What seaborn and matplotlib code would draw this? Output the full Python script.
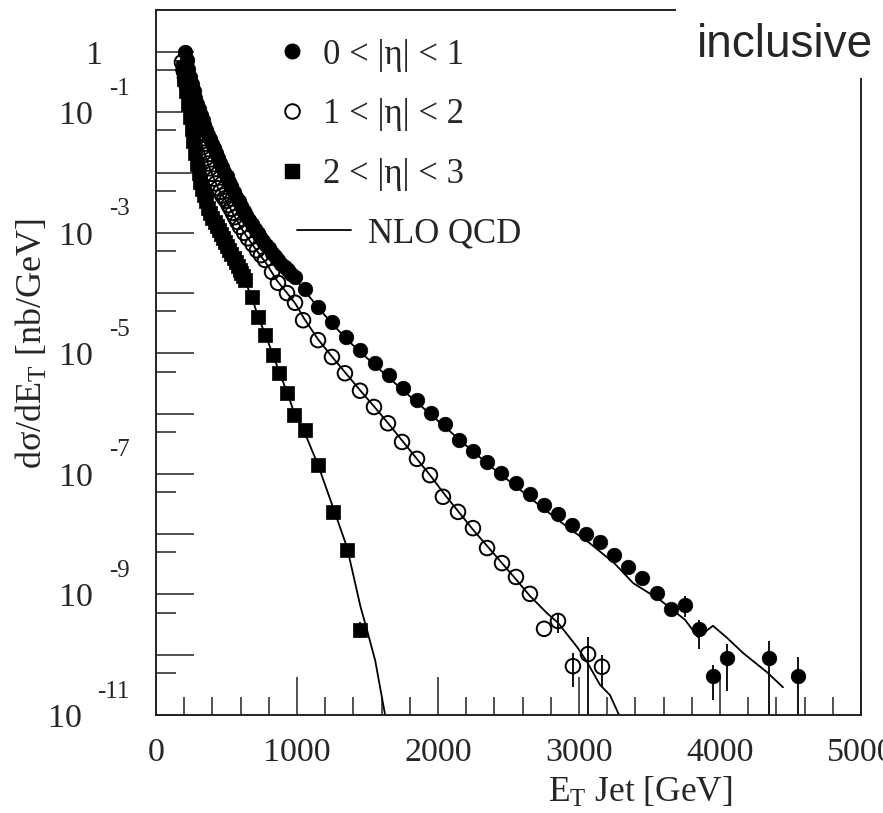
import numpy as np
import pandas as pd
import matplotlib
matplotlib.use("Agg")
import matplotlib.pyplot as plt
import seaborn as sns
from matplotlib.lines import Line2D
from matplotlib.patches import Rectangle
from matplotlib.ticker import MultipleLocator, LogLocator, NullFormatter

# --- data (E_T in GeV, cross section as log10 nb/GeV) ---
et_central = [206, 218, 230, 242, 255, 267, 280, 292, 305, 318,
              330, 342, 355, 367, 380, 395, 410, 425, 440, 455,
              470, 485, 500, 518, 535, 552, 570, 588, 605, 622,
              640, 660, 680, 700, 720, 740, 760, 780, 800, 822,
              845, 868, 890, 912, 935, 960, 986, 1057, 1150, 1250,
              1350, 1450, 1550, 1650, 1750, 1850, 1950, 2050, 2150, 2250,
              2350, 2450, 2550, 2650, 2750, 2850, 2950, 3050, 3150, 3250,
              3350, 3450, 3550, 3650, 3750, 3850, 3950, 4050, 4350, 4550]
logxs_central = [0.0, -0.14, -0.28, -0.41, -0.53, -0.65, -0.76, -0.86, -0.95, -1.04,
                 -1.13, -1.21, -1.29, -1.37, -1.44, -1.52, -1.60, -1.68, -1.76, -1.84,
                 -1.91, -1.99, -2.06, -2.15, -2.23, -2.32, -2.40, -2.48, -2.55, -2.63,
                 -2.70, -2.78, -2.86, -2.93, -3.00, -3.07, -3.13, -3.20, -3.26, -3.33,
                 -3.39, -3.45, -3.51, -3.57, -3.62, -3.68, -3.73, -3.93, -4.23, -4.48,
                 -4.73, -4.95, -5.16, -5.36, -5.57, -5.77, -5.99, -6.17, -6.44, -6.62,
                 -6.80, -6.99, -7.15, -7.33, -7.52, -7.67, -7.85, -8.00, -8.13, -8.35,
                 -8.55, -8.73, -8.98, -9.24, -9.18, -9.57, -10.35, -10.05, -10.05, -10.35]
err_et_central = [3750, 3850, 3950, 4050, 4350, 4550]
err_hi_central = [-9.03, -9.42, -10.17, -9.82, -9.77, -10.04]
err_lo_central = [-9.37, -9.91, -10.75, -10.60, -12.0, -12.0]

et_mid = [184, 195, 205, 218, 230, 242, 255, 268, 280, 292,
          305, 318, 330, 342, 355, 368, 380, 395, 410, 425,
          440, 455, 470, 485, 500, 515, 530, 545, 560, 578,
          596, 625, 652, 685, 716, 745, 773, 823, 865, 929,
          986, 1043, 1149, 1248, 1340, 1447, 1546, 1645, 1745, 1851,
          1943, 2035, 2142, 2248, 2348, 2454, 2553, 2652, 2752, 2851,
          2957, 3064, 3163]
logxs_mid = [-0.17, -0.30, -0.42, -0.56, -0.70, -0.83, -0.95, -1.07, -1.18, -1.29,
             -1.39, -1.49, -1.58, -1.67, -1.76, -1.85, -1.93, -2.02, -2.10, -2.18,
             -2.26, -2.32, -2.38, -2.43, -2.47, -2.54, -2.60, -2.67, -2.74, -2.82,
             -2.90, -3.00, -3.09, -3.19, -3.29, -3.37, -3.45, -3.65, -3.83, -4.00,
             -4.16, -4.45, -4.78, -5.06, -5.33, -5.62, -5.89, -6.16, -6.47, -6.75,
             -7.02, -7.38, -7.63, -7.90, -8.23, -8.48, -8.71, -8.99, -9.57, -9.44,
             -10.19, -9.99, -10.20]
err_et_mid = [2851, 2957, 3064, 3163]
err_hi_mid = [-9.30, -9.97, -9.71, -10.00]
err_lo_mid = [-9.64, -10.54, -12.0, -10.54]

et_fwd = [190, 202, 215, 228, 240, 252, 265, 278, 290, 302,
          315, 328, 340, 355, 370, 385, 400, 415, 430, 445,
          460, 475, 490, 505, 520, 535, 550, 565, 580, 593,
          605, 618, 631, 681, 723, 773, 830, 872, 929, 979,
          1057, 1149, 1255, 1355, 1447]
logxs_fwd = [-0.25, -0.45, -0.65, -0.87, -1.08, -1.28, -1.48, -1.67, -1.85, -2.00,
             -2.15, -2.27, -2.38, -2.48, -2.58, -2.67, -2.75, -2.82, -2.88, -2.95,
             -3.02, -3.09, -3.15, -3.22, -3.28, -3.35, -3.42, -3.49, -3.55, -3.61,
             -3.66, -3.72, -3.78, -4.07, -4.40, -4.70, -5.03, -5.33, -5.66, -6.02,
             -6.27, -6.85, -7.63, -8.26, -9.59]
err_et_fwd = [1447]
err_hi_fwd = [-9.45]
err_lo_fwd = [-9.72]

# NLO QCD curves
nlo_et_central = [200, 250, 300, 350, 400, 450, 500, 570, 640, 720,
                  800, 890, 986, 1050, 1150, 1250, 1350, 1450, 1550, 1650,
                  1750, 1850, 1950, 2050, 2150, 2250, 2350, 2450, 2550, 2650,
                  2750, 2850, 2950, 3050, 3150, 3250, 3383, 3574, 3752, 3844,
                  3950, 4050, 4163, 4333, 4447]
nlo_log_central = [0.05, -0.52, -0.98, -1.27, -1.55, -1.82, -2.06, -2.40, -2.70, -3.00,
                   -3.26, -3.51, -3.76, -3.95, -4.24, -4.51, -4.76, -4.98, -5.19, -5.40,
                   -5.61, -5.81, -6.02, -6.22, -6.43, -6.63, -6.83, -7.02, -7.20, -7.39,
                   -7.58, -7.76, -7.94, -8.10, -8.29, -8.48, -8.81, -9.09, -9.42, -9.71,
                   -9.52, -9.72, -9.97, -10.29, -10.54]
nlo_et_mid = [185, 230, 280, 330, 380, 440, 500, 560, 620, 700,
              780, 860, 930, 990, 1050, 1150, 1250, 1350, 1450, 1550,
              1650, 1750, 1850, 1950, 2050, 2150, 2250, 2350, 2450, 2550,
              2650, 2773, 2851, 2986, 3057, 3149, 3220, 3284, 3320]
nlo_log_mid = [-0.15, -0.70, -1.18, -1.58, -1.93, -2.26, -2.48, -2.74, -2.98, -3.25,
               -3.50, -3.80, -4.00, -4.18, -4.42, -4.77, -5.06, -5.34, -5.62, -5.89,
               -6.17, -6.46, -6.75, -7.04, -7.35, -7.64, -7.93, -8.20, -8.47, -8.74,
               -9.02, -9.31, -9.47, -9.87, -10.12, -10.50, -10.67, -11.0, -11.3]
nlo_et_fwd = [185, 215, 240, 265, 290, 315, 340, 370, 400, 460,
              520, 580, 631, 681, 723, 773, 830, 872, 929, 979,
              1057, 1149, 1255, 1355, 1450, 1500, 1555, 1625, 1660]
nlo_log_fwd = [-0.15, -0.65, -1.08, -1.48, -1.85, -2.15, -2.38, -2.58, -2.75, -3.02,
               -3.28, -3.55, -3.80, -4.08, -4.38, -4.68, -5.02, -5.30, -5.64, -5.98,
               -6.33, -6.85, -7.55, -8.22, -9.20, -9.62, -10.10, -11.0, -11.5]

legend_labels = ["0 < |η| < 1", "1 < |η| < 2", "2 < |η| < 3"]
ylabel_exps = [0, -1, -3, -5, -7, -9, -11]


def to_df(et, logxs):
    return pd.DataFrame({"et": et, "xs": np.power(10.0, logxs)})


sns.set_theme(style="ticks")
plt.rcParams["font.family"] = ["Liberation Serif", "DejaVu Serif"]
plt.rcParams["mathtext.fontset"] = "custom"
plt.rcParams["mathtext.rm"] = "Liberation Serif"
plt.rcParams["mathtext.it"] = "Liberation Serif:italic"
plt.rcParams["mathtext.bf"] = "Liberation Serif:bold"

W, H = 883, 813
fig = plt.figure(figsize=(W / 100, H / 100), dpi=100)
ax = fig.add_axes([156 / W, 98 / H, 705 / W, 705 / H])
ax.set_yscale("log")

# NLO lines
for e, l in [(nlo_et_central, nlo_log_central), (nlo_et_mid, nlo_log_mid),
             (nlo_et_fwd, nlo_log_fwd)]:
    sns.lineplot(data=to_df(e, l), x="et", y="xs", ax=ax, color="black",
                 linewidth=1.3, sort=False, estimator=None, zorder=2)

# error bars
for e, hi, lo in [(err_et_central, err_hi_central, err_lo_central),
                  (err_et_mid, err_hi_mid, err_lo_mid),
                  (err_et_fwd, err_hi_fwd, err_lo_fwd)]:
    ax.vlines(e, np.power(10.0, lo), np.power(10.0, hi), color="black",
              linewidth=1.3, zorder=2)

# open circles first, filled markers drawn over them
msize = 110
sns.scatterplot(data=to_df(et_mid, logxs_mid), x="et", y="xs", ax=ax,
                marker="o", s=msize, color="black", facecolor="none",
                edgecolor="black", linewidth=1.4, zorder=3)
sns.scatterplot(data=to_df(et_fwd, logxs_fwd), x="et", y="xs", ax=ax,
                marker="s", s=msize, color="black", edgecolor="black",
                linewidth=0.5, zorder=4)
sns.scatterplot(data=to_df(et_central, logxs_central), x="et", y="xs", ax=ax,
                marker="o", s=msize, color="black", edgecolor="black",
                linewidth=0.5, zorder=4)

ax.set_xlim(0, 5000)
ax.set_ylim(1e-11, 10 ** 0.697)
ax.set_xlabel("")
ax.set_ylabel("")

# axes styling
for side in ["left", "bottom", "top", "right"]:
    ax.spines[side].set_linewidth(1.4)
    ax.spines[side].set_color("#222222")
ax.xaxis.set_major_locator(MultipleLocator(1000))
ax.xaxis.set_minor_locator(MultipleLocator(200))
ax.yaxis.set_major_locator(LogLocator(base=10, numticks=30))
ax.yaxis.set_minor_locator(LogLocator(base=10, subs=[5.0], numticks=30))
ax.yaxis.set_major_formatter(NullFormatter())
ax.yaxis.set_minor_formatter(NullFormatter())
ax.tick_params(axis="both", which="both", direction="in", color="#222222",
               width=1.1, top=False, right=False)
ax.tick_params(axis="x", which="major", length=27.4, labelsize=24.5, pad=16)
ax.tick_params(axis="x", which="minor", length=13)
ax.tick_params(axis="y", which="major", length=27.4)
ax.tick_params(axis="y", which="minor", length=14.4)

# ROOT style y labels: 1, 10^-1, 10^-3 ...
ytr = ax.get_yaxis_transform()
for e in ylabel_exps:
    yv = 10.0 ** e
    if e == 0:
        ax.annotate("1", xy=(0, yv), xycoords=ytr, xytext=(-53, 0),
                    textcoords="offset pixels", ha="right",
                    va="center_baseline", fontsize=24.5)
        continue
    s = str(e)
    ax.annotate("10", xy=(0, yv), xycoords=ytr,
                xytext=(-63 - 11 * (len(s) - 2), 0),
                textcoords="offset pixels", ha="right",
                va="center_baseline", fontsize=24.5)
    ax.annotate(s, xy=(0, yv), xycoords=ytr, xytext=(-26, 26),
                textcoords="offset pixels", ha="right",
                va="center_baseline", fontsize=18)

# legends
fs_leg = 25
marker_handles = [
    Line2D([], [], marker="o", ls="none", mfc="black", mec="black", ms=10.5),
    Line2D([], [], marker="o", ls="none", mfc="none", mec="black", mew=1.4, ms=10.5),
    Line2D([], [], marker="s", ls="none", mfc="black", mec="black", ms=10.5),
]
leg1 = ax.legend(marker_handles, legend_labels, loc="upper left",
                 bbox_to_anchor=(0.178, 0.9595), frameon=False, fontsize=fs_leg,
                 handlelength=0.6, handletextpad=0.6, labelspacing=0.77,
                 borderpad=0, borderaxespad=0)
ax.add_artist(leg1)
ax.legend([Line2D([], [], color="black", lw=1.3)], ["NLO QCD"], loc="upper left",
          bbox_to_anchor=(0.2, 0.7057), frameon=False, fontsize=fs_leg,
          handlelength=1.55, handletextpad=0.5, borderpad=0, borderaxespad=0)

# axis titles
fig.text(32 / W, 1 - 344 / H, "dσ/dE$_{\\mathrm{T}}$ [nb/GeV]", rotation=90,
         ha="center", va="center", fontsize=26)
fig.text(640 / W, 11 / H, "E$_{\\mathrm{T}}$ Jet [GeV]", ha="center",
         va="baseline", fontsize=25.5)

# "inclusive" tag covering the top right corner of the frame
fig.add_artist(Rectangle((676 / W, 1 - 78 / H), 1 - 676 / W, 78 / H,
                         transform=fig.transFigure, facecolor="white",
                         edgecolor="none", zorder=10))
fig.text(697 / W, 1 - 57 / H, "inclusive", family="Liberation Sans",
         fontsize=33, va="baseline", zorder=11)

fig.savefig("out.png", dpi=100)
